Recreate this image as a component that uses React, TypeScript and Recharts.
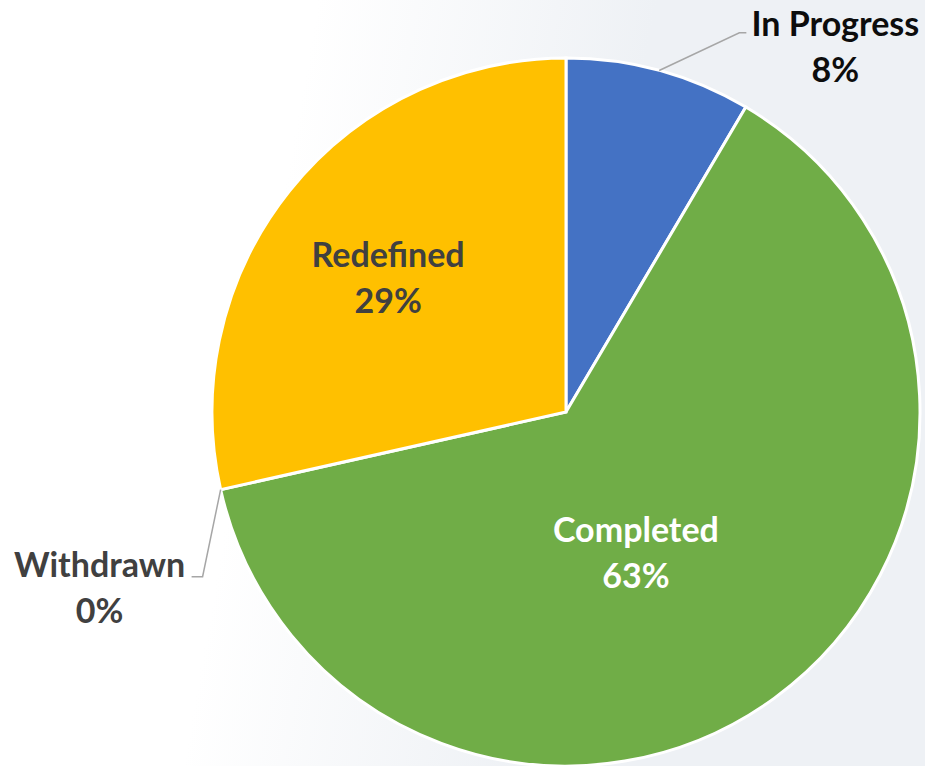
import React from 'react'
import { PieChart, Pie, Cell } from 'recharts'

// share of items per status (percent)
const categories = ['In Progress', 'Completed', 'Withdrawn', 'Redefined']
const shares = [8.48, 63.0, 0, 28.52]
const colors = ['#4472C4', '#70AD47', '#A5A5A5', '#FFC000']

const data = categories.map((name, i) => ({ name, value: shares[i] }))

const RAD = Math.PI / 180
const FONT = 'Lato, "Open Sans", sans-serif'

// where each data label sits: radius factor + angle nudge from the slice middle
const placement: Record<string, any> = {
  'In Progress': { outside: true, r: 1.178, shift: -9.3, textDx: 96, textDy: 3, tail: 7, color: '#0d0d0d' },
  Completed: { r: 0.417, shift: -7.8, color: '#ffffff' },
  Withdrawn: { outside: true, r: 1.127, shift: 11.7, textDx: -103, textDy: 0, tail: -11, color: '#404040' },
  Redefined: { r: 0.649, shift: -0.6, color: '#404040' }
}

const polar = (cx: number, cy: number, r: number, a: number) => ({
  x: cx + r * Math.cos(-a * RAD),
  y: cy + r * Math.sin(-a * RAD)
})

const renderLabel = (props: any) => {
  const { cx, cy, midAngle, outerRadius, percent, name } = props
  const p = placement[name]
  const pct = Math.round(percent * 100) + '%'
  const pos = polar(cx, cy, outerRadius * p.r, midAngle + p.shift)
  const text = (x: number, y: number) => (
    <text x={x} y={y} textAnchor="middle" fill={p.color} fontFamily={FONT} fontWeight={700} fontSize={34}>
      <tspan x={x} dy={0}>{name}</tspan>
      <tspan x={x} dy={46}>{pct}</tspan>
    </text>
  )
  if (!p.outside) return <g key={name}>{text(pos.x, pos.y)}</g>
  const edge = polar(cx, cy, outerRadius, midAngle)
  return (
    <g key={name}>
      <polyline
        points={`${edge.x},${edge.y} ${pos.x},${pos.y} ${pos.x + p.tail},${pos.y}`}
        fill="none"
        stroke="#a6a6a6"
        strokeWidth={1.5}
      />
      {text(pos.x + p.textDx, pos.y + p.textDy)}
    </g>
  )
}

export default function App() {
  return (
    <div
      style={{
        position: 'absolute',
        left: 0,
        top: 0,
        width: 925,
        height: 766,
        background: 'linear-gradient(100deg, #ffffff 30%, #eef1f5 62%)'
      }}
    >
      <PieChart width={925} height={766} margin={{ top: 0, right: 0, bottom: 0, left: 0 }}>
        <Pie
          data={data}
          dataKey="value"
          nameKey="name"
          cx={566}
          cy={412}
          outerRadius={354}
          startAngle={90}
          endAngle={-270}
          stroke="#ffffff"
          strokeWidth={3}
          label={renderLabel}
          labelLine={false}
          isAnimationActive={false}
        >
          {data.map((d, i) => (
            <Cell key={d.name} fill={colors[i]} />
          ))}
        </Pie>
      </PieChart>
    </div>
  )
}
